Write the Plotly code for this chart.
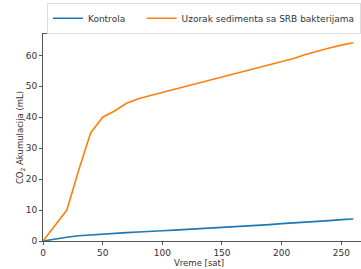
import plotly.graph_objects as go

hours = [0, 10, 20, 30, 40, 50, 60, 70, 80, 90, 100, 110, 120, 130, 140, 150,
         160, 170, 180, 190, 200, 210, 220, 230, 240, 250, 260]
kontrola = [0, 0.7, 1.2, 1.7, 2.0, 2.3, 2.5, 2.7, 2.9, 3.0, 3.3, 3.5, 3.7, 3.9,
            4.1, 4.4, 4.6, 4.8, 5.0, 5.3, 5.6, 5.8, 6.1, 6.4, 6.6, 6.9, 7.1]
srb = [0, 5, 10, 23, 35, 40, 42, 44.5, 46, 47, 48, 49, 50, 51, 52, 53, 54,
       55, 56, 57, 58, 59, 60.3, 61.4, 62.4, 63.3, 64.1]
names = ["Kontrola", "Uzorak sedimenta sa SRB bakterijama"]
colors = ["#1f77b4", "#ff7f0e"]
x_ticks = [0, 50, 100, 150, 200, 250]
y_ticks = [0, 10, 20, 30, 40, 50, 60]

fig = go.Figure()
for ys, nm, c in zip([kontrola, srb], names, colors):
    label = nm + "\u00a0" * 4 if nm == names[0] else nm
    fig.add_trace(go.Scatter(x=hours, y=ys, mode="lines", name=label,
                             line=dict(color=c, width=1.6)))

FONT = "DejaVu Sans"
axis_common = dict(showgrid=False, zeroline=False, showline=True,
                   linecolor="#555", linewidth=1, ticks="outside",
                   ticklen=3, tickcolor="#555", automargin=False,
                   tickfont=dict(family=FONT, size=9, color="#333"))
fig.update_xaxes(range=[0, 266.5], tickvals=x_ticks, mirror=True, **axis_common)
fig.update_yaxes(range=[0, 67], tickvals=y_ticks, **axis_common)

fig.add_annotation(text="Vreme [sat]", xref="paper", yref="paper",
                   x=0.49, y=-0.105, xanchor="center", yanchor="middle",
                   showarrow=False, font=dict(family=FONT, size=8.5, color="#333"))
fig.add_annotation(text="CO<sub>2</sub> Akumulacija (mL)", xref="paper", yref="paper",
                   x=-0.07, y=0.5, xanchor="center", yanchor="middle",
                   textangle=-90, showarrow=False,
                   font=dict(family=FONT, size=8.5, color="#333"))

fig.update_layout(
    width=361, height=269,
    margin=dict(l=43, r=0, t=31, b=28),
    plot_bgcolor="white", paper_bgcolor="white",
    font=dict(family=FONT, size=9, color="#333"),
    legend=dict(orientation="h", xref="container", yref="container",
                x=0.13, xanchor="left", y=0.99, yanchor="top",
                bordercolor="#ddd", borderwidth=1,
                font=dict(family=FONT, size=9, color="#333"),
                tracegroupgap=0, itemwidth=30),
    showlegend=True,
)

fig.write_html("out.html", config={"displayModeBar": False},
               post_script="document.body.style.margin='0';")
